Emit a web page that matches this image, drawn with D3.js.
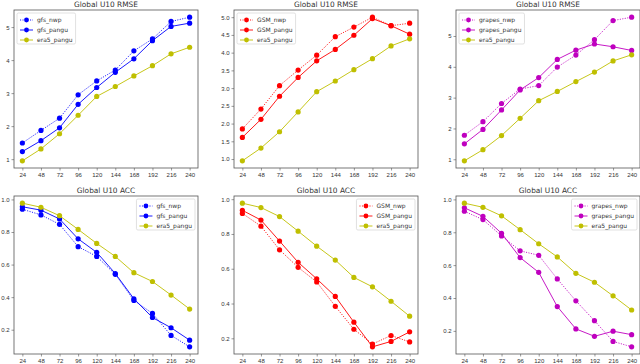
<!DOCTYPE html>
<html>
<head>
<meta charset="utf-8">
<script src="https://cdn.jsdelivr.net/npm/d3@7"></script>
<style>
  body { margin: 0; background: #fff; }
  svg { display: block; font-family: "DejaVu Sans", sans-serif; }
  .frame { fill: none; stroke: #555; stroke-width: 0.8; }
  .tick text { fill: #333; font-size: 6px; }
  .tick line { stroke: #555; stroke-width: 0.6; }
  .domain { display: none; }
  .title { font-size: 7.4px; fill: #333; text-anchor: middle; }
  .legend text { font-size: 6px; fill: #333; }
</style>
</head>
<body>
<svg id="chart" width="640" height="364"></svg>
<script>
// lead times (hours)
const steps = [24, 48, 72, 96, 120, 144, 168, 192, 216, 240];

// RMSE
const era5PanguRmse = [0.95, 1.31, 1.77, 2.33, 2.90, 3.20, 3.52, 3.83, 4.19, 4.39];
const gfsNwpRmse = [1.49, 1.87, 2.24, 2.95, 3.37, 3.70, 4.28, 4.64, 5.17, 5.30];
const gfsPanguRmse = [1.23, 1.56, 1.95, 2.66, 3.17, 3.63, 4.04, 4.59, 5.02, 5.12];
const gsmNwpRmse = [1.85, 2.41, 3.07, 3.51, 3.93, 4.45, 4.72, 5.00, 4.76, 4.83];
const gsmPanguRmse = [1.61, 2.12, 2.77, 3.30, 3.77, 4.09, 4.49, 4.96, 4.76, 4.52];
const grapesNwpRmse = [1.78, 2.22, 2.81, 3.28, 3.39, 3.99, 4.38, 4.88, 5.50, 5.61];
const grapesPanguRmse = [1.50, 1.97, 2.60, 3.25, 3.65, 4.24, 4.54, 4.74, 4.65, 4.53];

// ACC
const era5PanguAcc = [0.977, 0.952, 0.900, 0.816, 0.730, 0.650, 0.550, 0.496, 0.413, 0.327];
const gfsNwpAcc = [0.940, 0.905, 0.847, 0.710, 0.650, 0.540, 0.380, 0.300, 0.165, 0.095];
const gfsPanguAcc = [0.955, 0.934, 0.880, 0.758, 0.675, 0.545, 0.390, 0.275, 0.212, 0.136];
const gsmNwpAcc = [0.918, 0.845, 0.709, 0.608, 0.524, 0.384, 0.252, 0.167, 0.216, 0.179];
const gsmPanguAcc = [0.936, 0.880, 0.759, 0.637, 0.542, 0.441, 0.293, 0.151, 0.182, 0.237];
const grapesNwpAcc = [0.928, 0.877, 0.778, 0.687, 0.660, 0.516, 0.383, 0.262, 0.136, 0.103];
const grapesPanguAcc = [0.949, 0.897, 0.794, 0.646, 0.556, 0.348, 0.212, 0.167, 0.198, 0.177];

// tick labels
const rmseTicksInt = [1, 2, 3, 4, 5];
const rmseTicksHalf = [1.0, 1.5, 2.0, 2.5, 3.0, 3.5, 4.0, 4.5, 5.0];
const accTicks = [0.2, 0.4, 0.6, 0.8, 1.0];

const colors = { gfs: '#0000ff', GSM: '#ff0000', grapes: '#bf00bf', era5: '#bfbf00' };

const panels = [
  { col: 0, row: 0, title: 'Global U10 RMSE', name: 'gfs', nwp: gfsNwpRmse, pangu: gfsPanguRmse, era5: era5PanguRmse, ticks: rmseTicksInt, fmt: 'd', legend: 'left' },
  { col: 1, row: 0, title: 'Global U10 RMSE', name: 'GSM', nwp: gsmNwpRmse, pangu: gsmPanguRmse, era5: era5PanguRmse, ticks: rmseTicksHalf, fmt: '.1f', legend: 'left' },
  { col: 2, row: 0, title: 'Global U10 RMSE', name: 'grapes', nwp: grapesNwpRmse, pangu: grapesPanguRmse, era5: era5PanguRmse, ticks: rmseTicksInt, fmt: 'd', legend: 'left' },
  { col: 0, row: 1, title: 'Global U10 ACC', name: 'gfs', nwp: gfsNwpAcc, pangu: gfsPanguAcc, era5: era5PanguAcc, ticks: accTicks, fmt: '.1f', legend: 'right' },
  { col: 1, row: 1, title: 'Global U10 ACC', name: 'GSM', nwp: gsmNwpAcc, pangu: gsmPanguAcc, era5: era5PanguAcc, ticks: accTicks, fmt: '.1f', legend: 'right' },
  { col: 2, row: 1, title: 'Global U10 ACC', name: 'grapes', nwp: grapesNwpAcc, pangu: grapesPanguAcc, era5: era5PanguAcc, ticks: accTicks, fmt: '.1f', legend: 'right' }
];

const colLeft = [14, 234, 456],
    rowTop = [10, 196],
    pw = 184,
    ph = 158;

const svg = d3.select('#chart');

panels.forEach(p => {
  const g = svg.append('g')
      .attr('transform', `translate(${colLeft[p.col]},${rowTop[p.row]})`);

  const xs = d3.scalePoint()
      .domain(steps)
      .range([0, pw])
      .padding(0.45);

  const all = p.nwp.concat(p.pangu, p.era5);
  const [lo, hi] = d3.extent(all);
  const pad = (hi - lo) * 0.05;
  const ys = d3.scaleLinear()
      .domain([lo - pad, hi + pad])
      .range([ph, 0]);

  g.append('g')
      .attr('class', 'x axis')
      .attr('transform', `translate(0,${ph})`)
      .call(d3.axisBottom(xs).tickSize(2.5).tickPadding(1.8));

  g.append('g')
      .attr('class', 'y axis')
      .call(d3.axisLeft(ys).tickValues(p.ticks).tickFormat(d3.format(p.fmt)).tickSize(2.5).tickPadding(1.8));

  g.append('rect')
      .attr('class', 'frame')
      .attr('width', pw)
      .attr('height', ph);

  g.append('text')
      .attr('class', 'title')
      .attr('x', pw / 2)
      .attr('y', -3)
      .text(p.title);

  const series = [
    { label: p.name + '_nwp', values: p.nwp, color: colors[p.name], dash: '1.1,1.4' },
    { label: p.name + '_pangu', values: p.pangu, color: colors[p.name], dash: null },
    { label: 'era5_pangu', values: p.era5, color: colors.era5, dash: null }
  ];

  const line = d3.line()
      .x((d, i) => xs(steps[i]))
      .y(d => ys(d));

  series.forEach(s => {
    g.append('path')
        .datum(s.values)
        .attr('d', line)
        .attr('fill', 'none')
        .attr('stroke', s.color)
        .attr('stroke-width', 0.9)
        .attr('stroke-dasharray', s.dash);

    g.selectAll(null)
        .data(s.values)
        .enter().append('circle')
        .attr('cx', (d, i) => xs(steps[i]))
        .attr('cy', d => ys(d))
        .attr('r', 2.6)
        .attr('fill', s.color);
  });

  // legend
  const leg = g.append('g').attr('class', 'legend');
  const box = leg.append('rect')
      .attr('fill', '#fff')
      .attr('fill-opacity', 0.8)
      .attr('stroke', '#ccc')
      .attr('stroke-width', 0.6)
      .attr('rx', 1.5);

  series.forEach((s, i) => {
    const ry = 7 + i * 10;
    leg.append('line')
        .attr('x1', 3).attr('x2', 16)
        .attr('y1', ry).attr('y2', ry)
        .attr('stroke', s.color)
        .attr('stroke-width', 0.9)
        .attr('stroke-dasharray', s.dash);
    leg.append('circle')
        .attr('cx', 9.5).attr('cy', ry).attr('r', 2.4)
        .attr('fill', s.color);
    leg.append('text')
        .attr('x', 20).attr('y', ry + 2.1)
        .text(s.label);
  });

  const bw = d3.max(leg.selectAll('text').nodes(), n => n.getComputedTextLength()) + 23,
      bh = 31;
  box.attr('width', bw).attr('height', bh);

  const lx = p.legend === 'left' ? 3 : pw - bw - 3;
  leg.attr('transform', `translate(${lx},3)`);
});
</script>
</body>
</html>
